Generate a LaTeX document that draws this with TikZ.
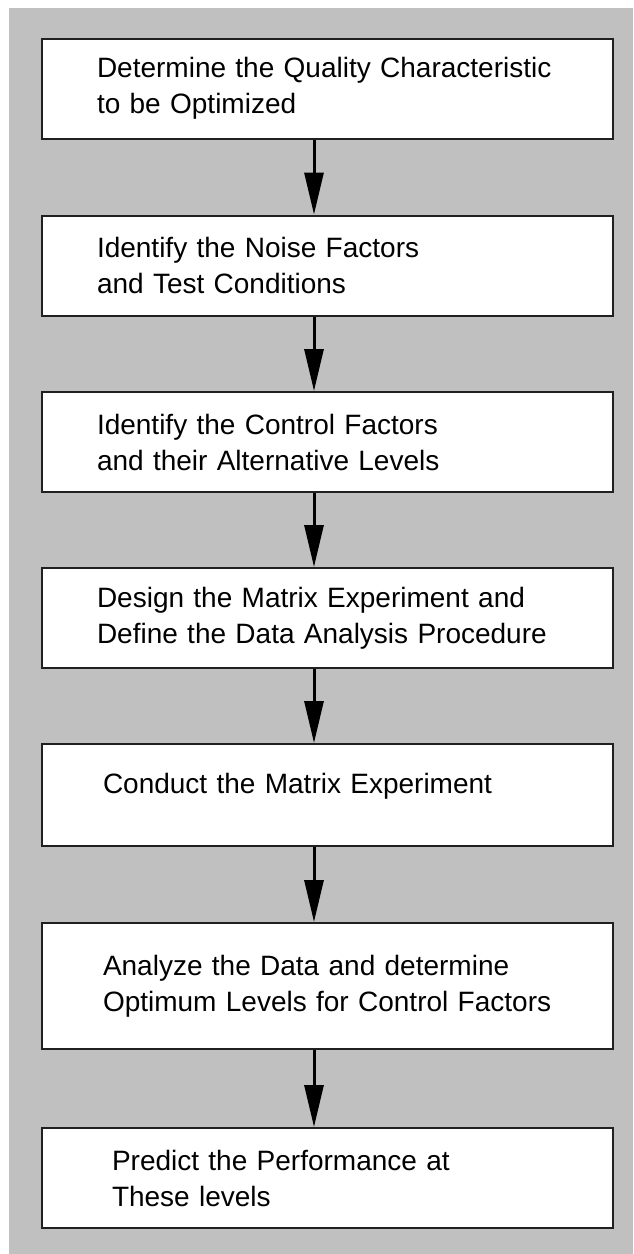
\documentclass[tikz,border=0pt]{standalone}
\usepackage{fontspec}
\setmainfont{Liberation Sans}
\usepackage{tikz}
\usetikzlibrary{arrows.meta}
\definecolor{panelgray}{RGB}{192,192,192}
\definecolor{inkgray}{RGB}{32,32,32}

\begin{document}
\begin{tikzpicture}[x=1pt,y=-1pt]
						\useasboundingbox (0,0) rectangle (633,1254);
						\fill[panelgray] (9,8) rectangle (633,1254);
						\begin{scope}[every node/.style={rectangle,draw=inkgray,fill=white,line width=2pt,
										minimum width=571pt,minimum height=100pt,align=left,
										font=\fontsize{28}{36}\selectfont}]
								\node[inner xsep=55pt,text width=461pt] (A) at (327.5,88.5) {Determine the Quality Characteristic\\to be Optimized};
								\node[inner xsep=55pt,text width=461pt] (B) at (327.5,265.5) {Identify the Noise Factors\\and Test Conditions};
								\node[inner xsep=55pt,text width=461pt] (C) at (327.5,442) {Identify the Control Factors\\and their Alternative Levels};
								\node[inner xsep=55pt,text width=461pt] (D) at (327.5,618) {Design the Matrix Experiment and\\Define the Data Analysis Procedure};
								\node[inner xsep=61pt,text width=449pt,minimum height=102pt] (E) at (327.5,795) {\raisebox{9pt}[\height][\depth]{Conduct the Matrix Experiment}};
								\node[inner xsep=61pt,text width=449pt,minimum height=126pt] (F) at (327.5,986) {Analyze the Data and determine\\Optimum Levels for Control Factors};
								\node[inner xsep=70pt,text width=431pt] (G) at (327.5,1178) {Predict the Performance at\\These levels};
						\end{scope}
						\begin{scope}[>={Triangle[length=42pt,width=19pt,black]},
										every edge/.style={draw=black,line width=3pt}]
								\path ([xshift=-13.5pt]A.south) edge[->] ([xshift=-13.5pt]B.north);
								\path ([xshift=-13.5pt]B.south) edge[->] ([xshift=-13.5pt]C.north);
								\path ([xshift=-13.5pt]C.south) edge[->] ([xshift=-13.5pt]D.north);
								\path ([xshift=-13.5pt]D.south) edge[->] ([xshift=-13.5pt]E.north);
								\path ([xshift=-13.5pt]E.south) edge[->] ([xshift=-13.5pt]F.north);
								\path ([xshift=-13.5pt]F.south) edge[->] ([xshift=-13.5pt]G.north);
						\end{scope}
				\end{tikzpicture}
\end{document}
